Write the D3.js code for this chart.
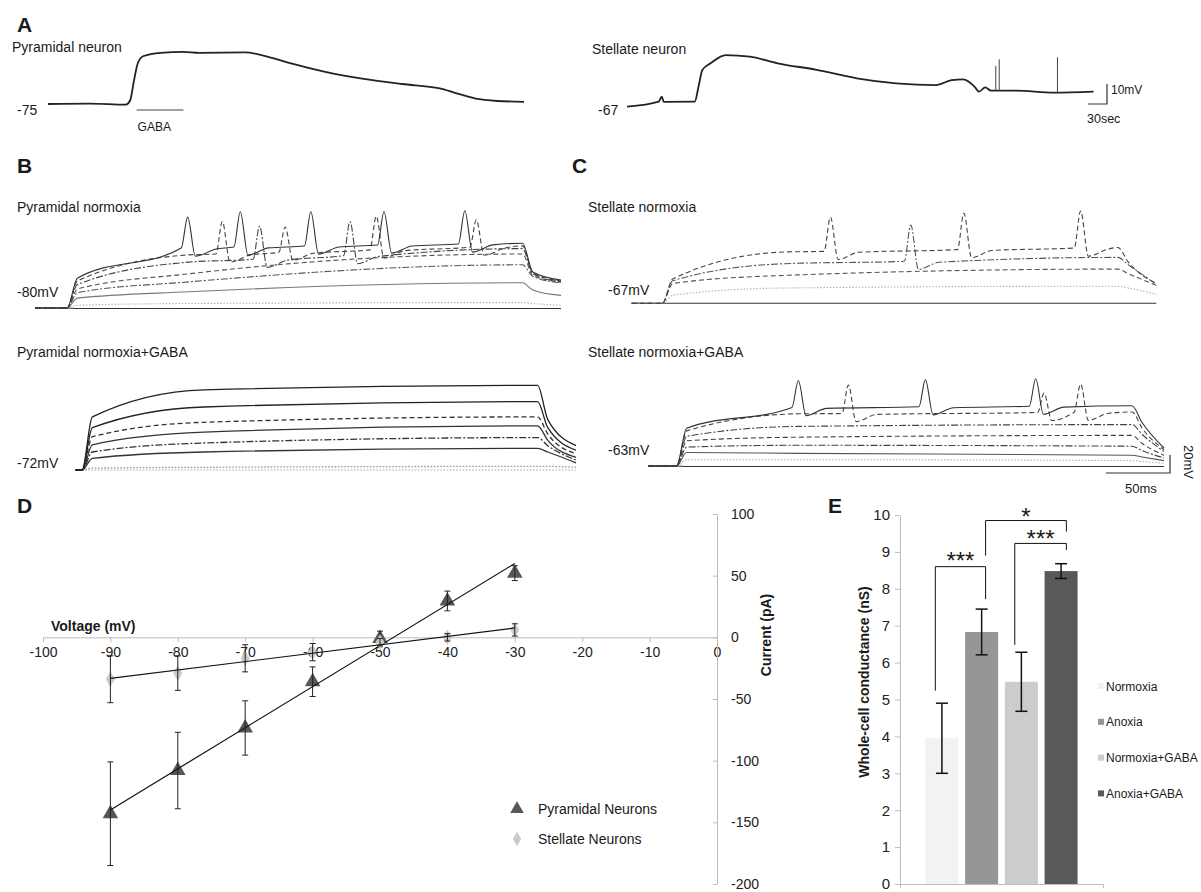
<!DOCTYPE html>
<html>
<head>
<meta charset="utf-8">
<script src="https://cdn.jsdelivr.net/npm/d3@7"></script>
<style>
  body { margin: 0; background: #fff; }
  svg { font-family: "Liberation Sans", Arial, Helvetica, sans-serif; }
</style>
</head>
<body>
<svg id="fig" width="1201" height="892"></svg>
<script>
// ---------- A: slow responses to a GABA puff, [seconds, mV] ----------
const pyramidalSlow = [[0,-75],[66,-74.8],[123,-75.3],[130,-73],[136,-63],[142,-54.5],[151,-51],[178,-49.4],[214,-48.9],[239,-49.4],[311,-49.2],[348,-51.4],[384,-54.7],[438,-58.9],[499,-62.4],[559,-65],[619,-67.2],[643,-69.4],[674,-72.2],[710,-73.5],[752,-73.9]];
const gabaPuff = [140, 214];
const stellateSlow = [[0,-67],[50,-64.5],[55,-62],[58,-64.6],[107,-64.5],[113,-57],[119,-48.6],[132,-45.3],[156,-41.2],[194,-42],[238,-45.3],[300,-48.6],[363,-52.8],[425,-55.3],[488,-56.2],[513,-53.7],[531,-53.3],[550,-57.3],[556,-59.5],[566,-57.3],[575,-59],[613,-59],[675,-60],[737,-59.5]];
const stellateSpikes = [[582.6,-46.6],[588,-43.3],[680,-42.3]];

// ---------- B, C: current steps ----------
// each trace: mV at 33 ms, 120 ms, 380 ms (step end), 388 ms, end of sweep
const stepOn = 25;
const stepKnots = [33, 120, 380, 388];

const pyrNormoxiaV = [
  [-80.5,-80.5,-80.5,-80.5,-80.5],
  [-77,-75,-74,-75,-77],
  [-69,-62,-52,-60,-66],
  [-63,-51,-32,-45,-52],
  [-59,-42,-20,-44,-51],
  [-54,-29,-14,-42,-51],
  [-50,-21,-11,-41,-50],
  [-47,-13,-8,-40,-49]
];
const pyrNormoxiaSpikes = [[],[],[],[],[],[[175,11],[245.5,16]],[[146,16],[195,10],[266,22],[344,18]],[[119,21],[160,27],[215,27],[272,27],[335,28]]];

const pyrGabaV = [
  [-72,-72,-72,-72,-72],
  [-70,-69,-68,-68,-69],
  [-59,-52,-48,-52,-64],
  [-52,-42,-36,-45,-61],
  [-44,-30,-23,-39,-58],
  [-35,-19,-13,-32,-54],
  [-25,-2,4,-25,-50],
  [-13,17,22,-16,-45]
];
const pyrGabaSpikes = [[],[],[],[],[],[],[],[]];

const stlNormoxiaV = [
  [-67,-67,-67,-67,-67],
  [-58,-50,-48,-50,-57],
  [-45,-36,-29,-34,-47],
  [-42,-23,-16,-24,-46],
  [-40,-10,-5,-21,-45]
];
const stlNormoxiaSpikes = [[],[],[],[[218.6,20]],[[156,28.6],[260,33],[351,35.6]]];

const stlGabaV = [
  [-63.5,-63.5,-63.5,-63.5,-63.5],
  [-56,-56,-57,-58,-60],
  [-48,-49,-51,-53,-57],
  [-42,-40,-41,-46,-54],
  [-35,-31,-29,-38,-51],
  [-30,-19,-17,-28,-47],
  [-24,-5,-3,-21,-45],
  [-21,2,4,-15,-43]
];
const stlGabaSpikes = [[],[],[],[],[],[],[[159,27],[311.5,18],[340,28]],[[120,32],[219,33],[305,34]]];

// ---------- D: I-V relation ----------
const voltages = [-90,-80,-70,-60,-50,-40,-30];
const pyrCurrent = [-143,-108,-73.5,-36,-1,29.5,52];
const pyrErr = [42,31,22,12,6,8,6];
const stlCurrent = [-34,-29,-17,-12,-4,0,6];
const stlErr = [19,14,11,7,3,3,5];
const voltTicks = [-100,-90,-80,-70,-60,-50,-40,-30,-20,-10,0];
const currentTicks = [-200,-150,-100,-50,0,50,100];

// ---------- E: whole-cell conductance ----------
const conditions = ['Normoxia','Anoxia','Normoxia+GABA','Anoxia+GABA'];
const conductance = [3.95,6.83,5.48,8.48];
const conductanceErr = [0.95,0.62,0.8,0.2];
const conductanceTicks = [0,1,2,3,4,5,6,7,8,9,10];
const comparisons = [['Normoxia','Anoxia','***'],['Anoxia','Anoxia+GABA','*'],['Normoxia+GABA','Anoxia+GABA','***']];

// =====================================================
const svg = d3.select('#fig');
const ink = '#1a1a1a';

function label(x, y, s, size, opts = {}) {
  return svg.append('text').attr('x', x).attr('y', y).text(s)
    .attr('font-size', size).attr('fill', opts.fill || ink)
    .attr('font-weight', opts.bold ? 'bold' : null)
    .attr('text-anchor', opts.anchor || 'start');
}

// panel letters
[['A',17,32],['B',17,173],['C',572,173],['D',17,513],['E',828,513]].forEach(([s,x,y]) => label(x, y, s, 21, {bold: true}));

// ---------- A ----------
const xPyrA = d3.scaleLinear().domain([0, 760]).range([48, 48 + 760 * 0.633]);
const yPyrA = d3.scaleLinear().domain([-75, -50]).range([104, 54]);
const xStlA = d3.scaleLinear().domain([0, 740]).range([627, 627 + 740 * 0.633]);
const yStlA = d3.scaleLinear().domain([-67, -42]).range([106.7, 56.7]);

svg.append('path').datum(pyramidalSlow)
  .attr('d', d3.line().x(d => xPyrA(d[0])).y(d => yPyrA(d[1])).curve(d3.curveMonotoneX))
  .attr('fill', 'none').attr('stroke', '#222').attr('stroke-width', 1.8);
svg.append('line')
  .attr('x1', xPyrA(gabaPuff[0])).attr('x2', xPyrA(gabaPuff[1]))
  .attr('y1', 110).attr('y2', 110).attr('stroke', '#444').attr('stroke-width', 1.2);
label(xPyrA(gabaPuff[0]) + 1, 131, 'GABA', 12);
label(12, 52, 'Pyramidal neuron', 14);
label(17, 115, '-75', 14);

svg.append('path').datum(stellateSlow)
  .attr('d', d3.line().x(d => xStlA(d[0])).y(d => yStlA(d[1])).curve(d3.curveMonotoneX))
  .attr('fill', 'none').attr('stroke', '#222').attr('stroke-width', 1.8);
const stlLevel = d3.scaleLinear().domain(stellateSlow.map(d => d[0])).range(stellateSlow.map(d => d[1]));
svg.selectAll('.aspike').data(stellateSpikes).join('line')
  .attr('x1', d => xStlA(d[0])).attr('x2', d => xStlA(d[0]))
  .attr('y1', d => yStlA(stlLevel(d[0]))).attr('y2', d => yStlA(d[1]))
  .attr('stroke', '#444').attr('stroke-width', 1);
label(592, 54, 'Stellate neuron', 14);
label(598, 115, '-67', 14);

// scale bar A (10 mV, 30 s)
{
  const sx = 1107, sy = 104;
  const h = yStlA(-67) - yStlA(-57), w = xStlA(30) - xStlA(0);
  svg.append('path').attr('d', `M${sx - w},${sy}H${sx}V${sy - h}`)
    .attr('fill', 'none').attr('stroke', '#333').attr('stroke-width', 1.2);
  label(sx + 4, 94, '10mV', 12);
  label(sx - w - 1, 123, '30sec', 12.5);
}

// ---------- B, C ----------
const pxPerMs = 1.283, pxPerMv = 0.9;
const dashes = {solid: null, dash: '5,3', dashdot: '7,2,2,2', dot: '1.6,1.6'};

function tracePanel(p) {
  const x = d3.scaleLinear().domain([0, 400]).range([p.x0, p.x0 + 400 * pxPerMs]);
  const y = d3.scaleLinear().domain([p.base, p.base + 20]).range([p.baseY, p.baseY - 20 * pxPerMv]);
  const line = d3.line().x(d => x(d[0])).y(d => y(d[1])).curve(d3.curveMonotoneX);
  const g = svg.append('g');
  p.values.forEach((v, i) => {
    const kt = [p.tStart, stepOn, ...stepKnots, p.tEnd];
    const kv = [p.base, p.base, ...v];
    const level = d3.scaleLinear().domain(kt.slice(1)).range(kv.slice(1));
    let pts = kt.map((t, j) => [t, kv[j]]);
    p.spikes[i].forEach(([ts, pk]) => {
      const l = level(ts);
      pts = pts.filter(d => d[0] < ts - 5 || d[0] > ts + 22);
      pts.push([ts - 5, l], [ts, pk], [ts + 6, l - 9], [ts + 22, l - 1]);
    });
    pts.sort((a, b) => a[0] - b[0]);
    const [dash, col] = p.look[i].split(':');
    g.append('path').datum(pts).attr('d', line)
      .attr('fill', 'none').attr('stroke', col)
      .attr('stroke-width', p.width).attr('stroke-dasharray', dashes[dash]);
  });
  return {x, y};
}

tracePanel({x0: 35, base: -80, baseY: 308, tStart: 0, tEnd: 410, width: 1.1,
  values: pyrNormoxiaV, spikes: pyrNormoxiaSpikes,
  look: ['solid:#333','dot:#b5b5b5','solid:#777','dashdot:#555','dash:#555','dashdot:#444','dash:#444','solid:#333']});
tracePanel({x0: 50, base: -72, baseY: 470, tStart: 20, tEnd: 410, width: 1.3,
  values: pyrGabaV, spikes: pyrGabaSpikes,
  look: ['dot:#c8c8c8','dot:#999','solid:#333','dashdot:#333','solid:#333','dash:#333','solid:#222','solid:#222']});
tracePanel({x0: 630.3, base: -67, baseY: 303.3, tStart: 1, tEnd: 410, width: 1.1,
  values: stlNormoxiaV, spikes: stlNormoxiaSpikes,
  look: ['solid:#333','dot:#b5b5b5','dash:#555','dashdot:#555','dash:#444']});
const stlG = tracePanel({x0: 644.4, base: -63, baseY: 466, tStart: 3, tEnd: 405, width: 1.1,
  values: stlGabaV, spikes: stlGabaSpikes,
  look: ['solid:#333','dot:#b5b5b5','solid:#555','dashdot:#444','dash:#444','dashdot:#444','dash:#444','solid:#333']});

label(17, 212, 'Pyramidal normoxia', 14);
label(17, 297, '-80mV', 14);
label(17, 357, 'Pyramidal normoxia+GABA', 14);
label(17, 468, '-72mV', 14);
label(588, 212, 'Stellate normoxia', 14);
label(608, 295, '-67mV', 14);
label(588, 357, 'Stellate normoxia+GABA', 14);
label(608, 455, '-63mV', 14);

// scale bar B/C (50 ms, 20 mV)
{
  const sx = 1170, sy = 473;
  const w = stlG.x(50) - stlG.x(0), h = stlG.y(-63) - stlG.y(-43);
  svg.append('path').attr('d', `M${sx - w},${sy}H${sx}V${sy - h}`)
    .attr('fill', 'none').attr('stroke', '#333').attr('stroke-width', 1.2);
  label(sx - w / 2 + 3, 493, '50ms', 13, {anchor: 'middle'});
  svg.append('text').attr('transform', `translate(${sx + 14},${sy - h / 2 - 2}) rotate(90)`)
    .attr('text-anchor', 'middle').attr('font-size', 13).attr('fill', ink).text('20mV');
}

// ---------- D ----------
const xD = d3.scaleLinear().domain([-100, 0]).range([43, 717]);
const yD = d3.scaleLinear().domain([-200, 100]).range([884, 514]);
const axisGrey = '#bdbdbd';
const plain = d => String(d);   // keep hyphen-minus like the original

const gxD = svg.append('g').attr('transform', `translate(0,${yD(0)})`)
  .call(d3.axisBottom(xD).tickValues(voltTicks).tickFormat(plain).tickSizeInner(5).tickSizeOuter(0).tickPadding(5));
const gyD = svg.append('g').attr('transform', `translate(${xD(0)},0)`)
  .call(d3.axisRight(yD).tickValues(currentTicks).tickFormat(plain).tickSizeInner(-4).tickSizeOuter(0).tickPadding(14));
[gxD, gyD].forEach(g => {
  g.select('.domain').attr('stroke', axisGrey);
  g.selectAll('.tick line').attr('stroke', axisGrey);
  g.selectAll('.tick text').attr('font-size', 14).attr('fill', '#222').attr('font-family', null);
});
label(51, 631, 'Voltage (mV)', 14, {bold: true});
svg.append('text').attr('transform', `translate(771,635) rotate(-90)`)
  .attr('text-anchor', 'middle').attr('font-size', 14).attr('font-weight', 'bold').attr('fill', ink)
  .text('Current (pA)');

const ivSeries = [
  {mean: pyrCurrent, err: pyrErr, sym: d3.symbolTriangle, size: 105, fill: '#575757'},
  {mean: stlCurrent, err: stlErr, sym: d3.symbolDiamond, size: 70, fill: '#cacaca'}
];
ivSeries.forEach(s => {
  const pts = voltages.map((v, i) => ({v, m: s.mean[i], e: s.err[i]}));
  const g = svg.append('g');
  g.selectAll('path.pt').data(pts).join('path').attr('class', 'pt')
    .attr('transform', d => `translate(${xD(d.v)},${yD(d.m)})`)
    .attr('d', d3.symbol(s.sym, s.size)).attr('fill', s.fill);
  const eb = g.selectAll('g.eb').data(pts).join('g').attr('class', 'eb');
  eb.append('line').attr('x1', d => xD(d.v)).attr('x2', d => xD(d.v))
    .attr('y1', d => yD(d.m - d.e)).attr('y2', d => yD(d.m + d.e));
  [-1, 1].forEach(k => eb.append('line')
    .attr('x1', d => xD(d.v) - 3).attr('x2', d => xD(d.v) + 3)
    .attr('y1', d => yD(d.m + k * d.e)).attr('y2', d => yD(d.m + k * d.e)));
  eb.selectAll('line').attr('stroke', '#222').attr('stroke-width', 1);
  // least-squares trendline
  const mx = d3.mean(voltages), my = d3.mean(s.mean);
  const slope = d3.sum(voltages, (v, i) => (v - mx) * (s.mean[i] - my)) / d3.sum(voltages, v => (v - mx) ** 2);
  const ends = d3.extent(voltages);
  g.append('line')
    .attr('x1', xD(ends[0])).attr('y1', yD(my + slope * (ends[0] - mx)))
    .attr('x2', xD(ends[1])).attr('y2', yD(my + slope * (ends[1] - mx)))
    .attr('stroke', '#111').attr('stroke-width', 1.2);
});

[['Pyramidal Neurons', 0, 809], ['Stellate Neurons', 1, 839]].forEach(([name, i, yy]) => {
  const s = ivSeries[i];
  svg.append('path').attr('transform', `translate(517,${yy})`)
    .attr('d', d3.symbol(s.sym, i === 0 ? 80 : 60)).attr('fill', s.fill);
  label(538, yy + 5, name, 14);
});

// ---------- E ----------
const xE = d3.scaleBand().domain(conditions).range([900, 1103]).paddingInner(0.17).paddingOuter(0.64);
const yE = d3.scaleLinear().domain([0, 10]).range([884, 515]);
const barColor = d3.scaleOrdinal().domain(conditions).range(['#f2f2f2', '#969696', '#cccccc', '#595959']);
const bw = xE.bandwidth();

const gyE = svg.append('g').attr('transform', 'translate(900,0)')
  .call(d3.axisLeft(yE).tickValues(conductanceTicks).tickSizeInner(5).tickSizeOuter(0).tickPadding(5));
const gxE = svg.append('g').attr('transform', `translate(0,${yE(0)})`)
  .call(d3.axisBottom(xE).tickValues([]).tickSizeOuter(4));
[gyE, gxE].forEach(g => {
  g.select('.domain').attr('stroke', axisGrey);
  g.selectAll('.tick line').attr('stroke', axisGrey);
  g.selectAll('.tick text').attr('font-size', 15).attr('fill', '#222').attr('font-family', null);
});

const barData = conditions.map((c, i) => ({c, v: conductance[i], e: conductanceErr[i]}));
svg.append('g').selectAll('rect').data(barData).join('rect')
  .attr('x', d => xE(d.c)).attr('width', bw)
  .attr('y', d => yE(d.v)).attr('height', d => yE(0) - yE(d.v))
  .attr('fill', d => barColor(d.c));
const ebE = svg.append('g').selectAll('g').data(barData).join('g')
  .attr('stroke', '#111').attr('stroke-width', 1.5);
ebE.append('line').attr('x1', d => xE(d.c) + bw / 2).attr('x2', d => xE(d.c) + bw / 2)
  .attr('y1', d => yE(d.v - d.e)).attr('y2', d => yE(d.v + d.e));
[-1, 1].forEach(k => ebE.append('line')
  .attr('x1', d => xE(d.c) + bw / 2 - 6).attr('x2', d => xE(d.c) + bw / 2 + 6)
  .attr('y1', d => yE(d.v + k * d.e)).attr('y2', d => yE(d.v + k * d.e)));

// significance brackets: bracket top, left leg end, right leg end (nS) and leg position in band
const bracketLayout = [
  {top: 8.6, aEnd: 5.24, bEnd: 7.72, aAt: 0.3, bAt: 0.62, textY: 569},
  {top: 9.85, aEnd: 8.9, bEnd: 9.55, aAt: 0.62, bAt: 0.66, textY: 525},
  {top: 9.23, aEnd: 6.48, bEnd: 9.05, aAt: 0.3, bAt: 0.66, textY: 547}
];
comparisons.forEach(([a, b, mark], i) => {
  const L = bracketLayout[i];
  const xa = xE(a) + bw * L.aAt, xb = xE(b) + bw * L.bAt;
  svg.append('path')
    .attr('d', `M${xa},${yE(L.aEnd)}V${yE(L.top)}H${xb}V${yE(L.bEnd)}`)
    .attr('fill', 'none').attr('stroke', '#111').attr('stroke-width', 1);
  label((xa + xb) / 2, L.textY, mark, 24, {anchor: 'middle'});
});

svg.append('text').attr('transform', 'translate(869,682) rotate(-90)')
  .attr('text-anchor', 'middle').attr('font-size', 14).attr('font-weight', 'bold').attr('fill', ink)
  .text('Whole-cell conductance (nS)');

conditions.forEach((c, i) => {
  const yy = 686 + i * 35.8;
  svg.append('rect').attr('x', 1098).attr('y', yy - 3).attr('width', 6).attr('height', 6).attr('fill', barColor(c));
  label(1106, yy + 4.5, c, 12);
});
</script>
</body>
</html>
